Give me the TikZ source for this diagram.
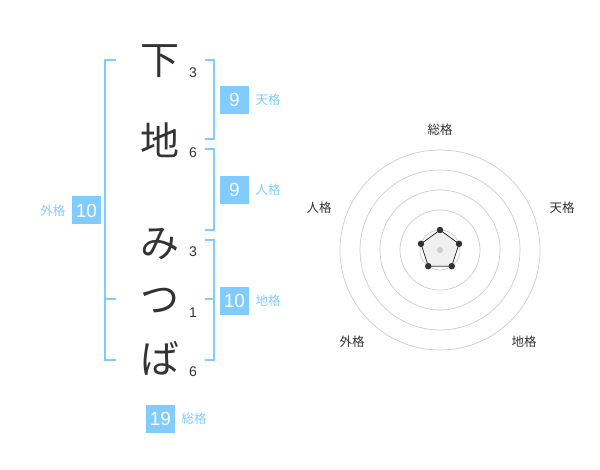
\documentclass[tikz,border=0pt]{standalone}
\usepackage{fontspec}
\setmainfont{Noto Sans CJK JP}
\newfontfamily\digitfont{Liberation Sans}
\usetikzlibrary{calc}

\definecolor{kakublue}{RGB}{128,204,255}
\definecolor{kakutext}{RGB}{51,51,51}
\definecolor{ringgray}{RGB}{204,204,204}

\begin{document}
\begin{tikzpicture}[
    x=1pt,
    y=-1pt,
    line cap=butt,
    line join=miter,
    bracket/.style={kakublue, line width=2pt},
    moji/.style={text=kakutext, font=\fontsize{39}{39}\selectfont},
    kakusu/.style={text=kakutext, font=\digitfont\fontsize{14}{14}\selectfont},
    scorebox/.style={fill=kakublue, text=white, inner sep=0pt,
        minimum width=29pt, minimum height=28pt,
        font=\digitfont\fontsize{19}{19}\selectfont},
    scorelabel/.style={text=kakublue, font=\fontsize{12.5}{12.5}\selectfont},
    ring/.style={ringgray, line width=0.7pt},
    axislabel/.style={text=kakutext, font=\fontsize{12.5}{12.5}\selectfont},
    dot/.style={circle, fill=kakutext, inner sep=0pt, minimum size=6.5pt}
]

\useasboundingbox (0,0) rectangle (600,470);

% -------------------------------------------------
% Name characters and stroke counts
% -------------------------------------------------

\node[moji] (c1) at (160,61) {下};
\node[moji] (c2) at (160,140) {地};
\node[moji] (c3) at (160,244) {み};
\node[moji] (c4) at (160,301) {つ};
\node[moji] (c5) at (160,358) {ば};

\node[kakusu] (n1) at (193,73) {3};
\node[kakusu] (n2) at (193,153) {6};
\node[kakusu] (n3) at (193,252) {3};
\node[kakusu] (n4) at (193,313) {1};
\node[kakusu] (n5) at (193,372) {6};

% -------------------------------------------------
% Brackets
% -------------------------------------------------

% Outer bracket (gaikaku)
\draw[bracket] (116,60) -- (105,60) -- (105,360) -- (116,360);
\draw[bracket] (105,299) -- (116,299);

% Tenkaku
\draw[bracket] (205,60) -- (214,60) -- (214,139) -- (205,139);

% Jinkaku
\draw[bracket] (205,149) -- (214,149) -- (214,230) -- (205,230);

% Chikaku
\draw[bracket] (205,240) -- (214,240) -- (214,360) -- (205,360);
\draw[bracket] (205,299) -- (214,299);

% -------------------------------------------------
% Scores
% -------------------------------------------------

\node[scorebox] (ten) at (234.5,100) {9};
\node[scorelabel, right=3pt] (tenl) at (ten.east) {天格};

\node[scorebox] (jin) at (234.5,190) {9};
\node[scorelabel, right=3pt] (jinl) at (jin.east) {人格};

\node[scorebox] (chi) at (234.5,301) {10};
\node[scorelabel, right=3pt] (chil) at (chi.east) {地格};

\node[scorebox] (gai) at (86.5,210.5) {10};
\node[scorelabel, left=3pt] (gail) at (gai.west) {外格};

\node[scorebox] (sou) at (160.5,419) {19};
\node[scorelabel, right=3pt] (soul) at (sou.east) {総格};

% -------------------------------------------------
% Radar chart
% -------------------------------------------------

\coordinate (rc) at (440,250);

\foreach \r in {20,40,60,80,100}
    \draw[ring] (rc) circle (\r);

\node[axislabel] (lsou) at (440,130) {総格};
\node[axislabel] (lten) at (562,208) {天格};
\node[axislabel] (lchi) at (524,342) {地格};
\node[axislabel] (lgai) at (352,342) {外格};
\node[axislabel] (ljin) at (319,208) {人格};

% Score polygon
\draw[kakutext, fill=gray!12, line width=0.8pt]
    ($(rc)+(-90:20)$) -- ($(rc)+(-18:20)$) -- ($(rc)+(54:20)$)
    -- ($(rc)+(126:20)$) -- ($(rc)+(198:20)$) -- cycle;

\foreach \a in {-90,-18,54,126,198}
    \node[dot] at ($(rc)+(\a:20)$) {};

\fill[ringgray] (rc) circle (3);

\end{tikzpicture}
\end{document}
